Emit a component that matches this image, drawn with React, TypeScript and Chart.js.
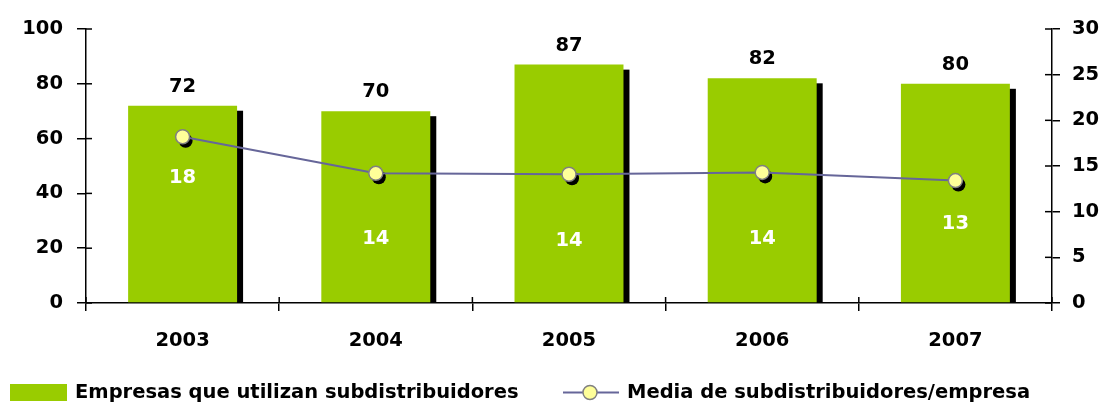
import React, { useEffect, useRef } from "react";
import { Chart, registerables } from "chart.js";

Chart.register(...registerables);

const years = ["2003", "2004", "2005", "2006", "2007"];
const empresas = [72, 70, 87, 82, 80];
const media = [18.2, 14.2, 14.1, 14.3, 13.4];
const mediaLabelOffsets = [41, 66, 67, 67, 43];
const leftTicks = [0, 20, 40, 60, 80, 100];
const rightTicks = [0, 5, 10, 15, 20, 25, 30];
const barLegend = "Empresas que utilizan subdistribuidores";
const lineLegend = "Media de subdistribuidores/empresa";

const GREEN = "#99CC00";
const LINE = "#666699";
const POINT_FILL = "#FFFF99";
const POINT_BORDER = "#808080";
const FONT_FAMILY = "'DejaVu Sans', sans-serif";
const FONT_SIZE = 19.5;

const customPlugin = {
  id: "custom",
  beforeDatasetDraw(chart: any, args: any) {
    const ctx = chart.ctx;
    if (args.index === 0) {
      const meta = chart.getDatasetMeta(0);
      ctx.save();
      ctx.fillStyle = "#000";
      meta.data.forEach((bar: any) => {
        const p = bar.getProps(["x", "y", "base", "width"], true);
        const left = p.x - p.width / 2 + 6;
        const top = p.y + 5;
        ctx.fillRect(left, top, p.width, p.base - top);
      });
      ctx.restore();
    }
    if (args.index === 1) {
      const meta = chart.getDatasetMeta(1);
      ctx.save();
      ctx.fillStyle = "#000";
      meta.data.forEach((pt: any) => {
        const p = pt.getProps(["x", "y"], true);
        ctx.beginPath();
        ctx.arc(p.x + 3, p.y + 4, 7, 0, Math.PI * 2);
        ctx.fill();
      });
      ctx.restore();
    }
  },
  afterDatasetsDraw(chart: any) {
    const ctx = chart.ctx;
    ctx.save();
    ctx.font = `bold ${FONT_SIZE}px ${FONT_FAMILY}`;
    ctx.textAlign = "center";
    ctx.textBaseline = "middle";
    const barMeta = chart.getDatasetMeta(0);
    barMeta.data.forEach((bar: any, i: number) => {
      const p = bar.getProps(["x", "y"], true);
      ctx.fillStyle = "#000";
      ctx.fillText(String(empresas[i]), p.x, p.y - 19);
    });
    const lineMeta = chart.getDatasetMeta(1);
    lineMeta.data.forEach((pt: any, i: number) => {
      const p = pt.getProps(["x", "y"], true);
      ctx.fillStyle = "#FFFFFF";
      ctx.fillText(String(Math.round(media[i])), p.x, p.y + mediaLabelOffsets[i]);
    });
    ctx.restore();
  },
  afterDraw(chart: any) {
    const ctx = chart.ctx;
    const area = chart.chartArea;
    ctx.save();
    // inner tick marks
    ctx.strokeStyle = "#000";
    ctx.lineWidth = 1.5;
    const yL = chart.scales.y;
    const yR = chart.scales.y2;
    const xS = chart.scales.x;
    yL.ticks.forEach((t: any, i: number) => {
      const py = yL.getPixelForTick(i);
      ctx.beginPath();
      ctx.moveTo(area.left, py);
      ctx.lineTo(area.left + 6, py);
      ctx.stroke();
    });
    yR.ticks.forEach((t: any, i: number) => {
      const py = yR.getPixelForTick(i);
      ctx.beginPath();
      ctx.moveTo(area.right, py);
      ctx.lineTo(area.right - 7, py);
      ctx.stroke();
    });
    for (let i = 0; i <= years.length; i++) {
      const px = xS.left + (xS.width * i) / years.length;
      ctx.beginPath();
      ctx.moveTo(px, area.bottom);
      ctx.lineTo(px, area.bottom - 6);
      ctx.stroke();
    }
    // legend
    const ly = 392.5;
    ctx.fillStyle = GREEN;
    ctx.fillRect(10, 384, 57, 17);
    ctx.font = `bold ${FONT_SIZE}px ${FONT_FAMILY}`;
    ctx.textAlign = "left";
    ctx.textBaseline = "middle";
    ctx.fillStyle = "#000";
    ctx.fillText(barLegend, 75, ly);
    ctx.strokeStyle = LINE;
    ctx.lineWidth = 2;
    ctx.beginPath();
    ctx.moveTo(563, ly);
    ctx.lineTo(619, ly);
    ctx.stroke();
    ctx.beginPath();
    ctx.arc(590, ly, 7, 0, Math.PI * 2);
    ctx.fillStyle = POINT_FILL;
    ctx.fill();
    ctx.strokeStyle = POINT_BORDER;
    ctx.lineWidth = 1.5;
    ctx.stroke();
    ctx.fillStyle = "#000";
    ctx.fillText(lineLegend, 627, ly);
    ctx.restore();
  },
};

export default function App() {
  const ref = useRef<HTMLCanvasElement | null>(null);
  useEffect(() => {
    if (!ref.current) return;
    const tickFont = { family: FONT_FAMILY, size: FONT_SIZE, weight: "bold" as const };
    const chart = new Chart(ref.current, {
      type: "bar",
      data: {
        labels: years,
        datasets: [
          {
            type: "bar",
            label: barLegend,
            data: empresas,
            backgroundColor: GREEN,
            borderWidth: 0,
            categoryPercentage: 1,
            barPercentage: 0.564,
            yAxisID: "y",
            order: 2,
          },
          {
            type: "line",
            label: lineLegend,
            data: media,
            borderColor: LINE,
            borderWidth: 2,
            pointRadius: 7,
            pointHoverRadius: 7,
            pointBackgroundColor: POINT_FILL,
            pointBorderColor: POINT_BORDER,
            pointBorderWidth: 1.5,
            tension: 0,
            yAxisID: "y2",
            order: 1,
          } as any,
        ],
      },
      options: {
        animation: false,
        responsive: false,
        maintainAspectRatio: false,
        layout: { padding: { top: 29, left: 0, right: 0, bottom: 0 } },
        plugins: { legend: { display: false }, tooltip: { enabled: false } },
        scales: {
          x: {
            offset: true,
            grid: {
              display: true,
              drawOnChartArea: false,
              offset: true,
              tickLength: 8,
              color: "#000",
              lineWidth: 1.5,
            },
            border: { color: "#000", width: 1.5 },
            ticks: { font: tickFont, color: "#000", padding: 18 },
            afterFit(scale: any) {
              scale.height = 100;
            },
          },
          y: {
            position: "left",
            min: 0,
            max: 100,
            afterBuildTicks(scale: any) {
              scale.ticks = leftTicks.map((v) => ({ value: v }));
            },
            grid: { display: true, drawOnChartArea: false, tickLength: 9, color: "#000", lineWidth: 1.5 },
            border: { color: "#000", width: 1.5 },
            ticks: { font: tickFont, color: "#000", padding: 14 },
            afterFit(scale: any) {
              scale.width = 86;
            },
          },
          y2: {
            position: "right",
            min: 0,
            max: 30,
            afterBuildTicks(scale: any) {
              scale.ticks = rightTicks.map((v) => ({ value: v }));
            },
            grid: { display: true, drawOnChartArea: false, tickLength: 8, color: "#000", lineWidth: 1.5 },
            border: { color: "#000", width: 1.5 },
            ticks: { font: tickFont, color: "#000", padding: 12 },
            afterFit(scale: any) {
              scale.width = 49;
            },
          },
        },
      },
      plugins: [customPlugin],
    });
    return () => chart.destroy();
  }, []);
  return (
    <div style={{ position: "fixed", left: 0, top: 0, width: 1101, height: 403, background: "#fff" }}>
      <canvas ref={ref} width={1101} height={403} style={{ width: 1101, height: 403, display: "block" }} />
    </div>
  );
}
